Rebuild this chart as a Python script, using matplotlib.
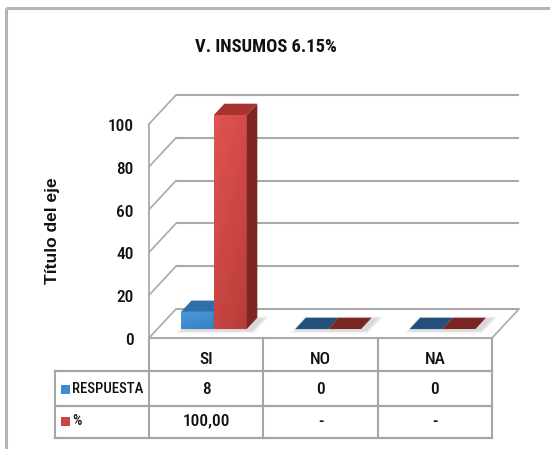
import numpy as np
import matplotlib
matplotlib.use('Agg')
import matplotlib.pyplot as plt
from matplotlib.patches import Polygon
from matplotlib import font_manager as fm

# ---------------- data ----------------
categories = ['SI', 'NO', 'NA']
series_names = ['RESPUESTA', '%']
respuesta = [8, 0, 0]
porcentaje = [100, 0, 0]
respuesta_labels = ['8', '0', '0']
porcentaje_labels = ['100,00', '-', '-']
yticks = [0, 20, 40, 60, 80, 100]
title = 'V. INSUMOS 6.15%'
ylabel = 'Título del eje'


# ---------------- fonts: look for a condensed face ----------------
def _w(f):
    w = f.weight
    if isinstance(w, str):
        wl = w.lower()
        if 'bold' in wl:
            return 700
        if 'medium' in wl:
            return 500
        if 'light' in wl:
            return 300
        return 400
    return int(w)


def find_condensed(target):
    prefs = ['Liberation Sans Narrow', 'Roboto Condensed', 'DejaVu Sans Condensed',
             'DejaVu Sans', 'Noto Sans', 'Open Sans', 'Roboto', 'Open Sans Condensed',
             'Noto Sans Display']
    ents = fm.fontManager.ttflist
    for name in prefs:
        best = None
        for f in ents:
            st = str(f.stretch).lower()
            cond = ('condensed' in st or 'narrow' in st or 'Narrow' in f.name
                    or 'Condensed' in f.name)
            if f.name == name and cond and f.style == 'normal':
                d = abs(_w(f) - target)
                if best is None or d < best[0]:
                    best = (d, f)
        if best is not None and best[0] <= 150:
            return fm.FontProperties(fname=best[1].fname)
    return None


COND = find_condensed(500)
COND_B = find_condensed(700)


def fp(size, bold=False):
    if bold and COND_B is not None:
        p = COND_B.copy()
    elif COND is not None:
        p = COND.copy()
        if bold:
            p.set_weight('bold')
    else:
        p = fm.FontProperties(family=['Liberation Sans', 'DejaVu Sans'],
                              weight='bold' if bold else 'normal')
        size = size * 0.82
    p.set_size(size)
    return p


# ---------------- layout ----------------
W, H = 550, 449
fig = plt.figure(figsize=(W / 100, H / 100), dpi=100)
ax = fig.add_axes([0, 0, 1, 1])
ax.axis('off')

X0PX, CATPX = 149.0, 114.33   # pixel of category 0 / pixels per category
Y0PX, VPX = 338.0, 2.14       # pixel of value 0 / pixels per value unit
XLIM = (-X0PX / CATPX, (W - X0PX) / CATPX)
YLIM = ((Y0PX - H) / VPX, Y0PX / VPX)

DX, DY = 27 / CATPX, 29 / VPX     # depth offset of back wall (data units)


def P(c, v, f):
    return (c + f * DX, v + f * DY)


def px2c(x):
    return (x - X0PX) / CATPX


def py2v(y):
    return (Y0PX - y) / VPX


GRID = '#A9A9A9'
TXT = '#111111'
ncat = len(categories)

# frame (top and left border)
ax.plot([6 / W, 1], [1 - 8 / H, 1 - 8 / H], transform=ax.transAxes,
        color='#B5B5B5', lw=2.2, solid_capstyle='butt', zorder=1)
ax.plot([6 / W, 6 / W], [0, 1 - 8 / H], transform=ax.transAxes,
        color='#B5B5B5', lw=2.2, solid_capstyle='butt', zorder=1)

# back wall gridlines + side wall diagonals
for v in yticks:
    a = P(0, v, 1)
    b = P(ncat, v, 1)
    ax.plot([a[0], b[0]], [a[1], b[1]], color=GRID, lw=1.5, zorder=2,
            solid_capstyle='butt')
    f0 = P(0, v, 0)
    ax.plot([f0[0], a[0]], [f0[1], a[1]], color=GRID, lw=1.2, zorder=2)
ax.plot([0, 0], [0, yticks[-1]], color=GRID, lw=1.3, zorder=2)
a = P(ncat, 0, 0)
b = P(ncat, 0, 1)
ax.plot([0, ncat], [0, 0], color=GRID, lw=1.5, zorder=2)
ax.plot([a[0], b[0]], [a[1], b[1]], color=GRID, lw=1.2, zorder=2)

# tick labels
for v in yticks:
    ax.text(px2c(134), v - 1.2, str(v), ha='right', va='center',
            fontproperties=fp(12.5), color=TXT, zorder=5)

# ---------------- bars ----------------
F1, F2 = 0.31, 0.70
BW = 0.288
OFF = 0.206

blue = dict(front=('#4A9BDC', '#3581C2'), top='#2F6FA8', side='#24527C',
            flat='#22507A')
red = dict(front=('#E15451', '#B83C39'), top='#A83431', side='#7E2624',
           flat='#7A2522')


def grad_face(pts, c1, c2, z):
    patch = Polygon(pts, closed=True, facecolor='none', edgecolor='none')
    ax.add_patch(patch)
    xs = [p[0] for p in pts]
    ys = [p[1] for p in pts]
    n = 64
    gx, gy = np.meshgrid(np.linspace(0, 1, n), np.linspace(0, 1, n))
    t = 0.35 * gx + 0.65 * (1 - gy)
    c1 = np.array(matplotlib.colors.to_rgb(c1))
    c2 = np.array(matplotlib.colors.to_rgb(c2))
    img = c1[None, None, :] * (1 - t[..., None]) + c2[None, None, :] * t[..., None]
    im = ax.imshow(img, extent=[min(xs), max(xs), min(ys), max(ys)],
                   origin='lower', aspect='auto', zorder=z, interpolation='bilinear')
    im.set_clip_path(patch)


def bar3d(x0, x1, v, col, z):
    if v <= 0:
        pts = [P(x0, 0, F1), P(x1, 0, F1), P(x1, 0, F2), P(x0, 0, F2)]
        ax.add_patch(Polygon(pts, closed=True, facecolor=col['flat'],
                             edgecolor='none', zorder=z))
        return
    front = [P(x0, 0, F1), P(x1, 0, F1), P(x1, v, F1), P(x0, v, F1)]
    grad_face(front, col['front'][0], col['front'][1], z)
    top = [P(x0, v, F1), P(x1, v, F1), P(x1, v, F2), P(x0, v, F2)]
    ax.add_patch(Polygon(top, closed=True, facecolor=col['top'],
                         edgecolor='none', zorder=z))
    side = [P(x1, 0, F1), P(x1, 0, F2), P(x1, v, F2), P(x1, v, F1)]
    ax.add_patch(Polygon(side, closed=True, facecolor=col['side'],
                         edgecolor='none', zorder=z))


for i in range(ncat):
    xa = i + OFF
    xb = xa + BW
    xc = xb + BW
    for k, al in enumerate([0.04, 0.06, 0.08, 0.10]):
        e = 0.05 - k * 0.012
        ev = 0.10 - k * 0.025
        sh = [P(xa - e + 0.03, 0, F1 - ev - 0.05), P(xc + e + 0.05, 0, F1 - ev - 0.05),
              P(xc + e + 0.05, 0, F2 + ev - 0.05), P(xa - e + 0.03, 0, F2 + ev - 0.05)]
        ax.add_patch(Polygon(sh, closed=True, facecolor='#707070', alpha=al,
                             edgecolor='none', zorder=3))
    bar3d(xa, xb, respuesta[i], blue, 4)
    bar3d(xb, xc, porcentaje[i], red, 4.5)

# ---------------- data table ----------------
v_r1 = py2v(371)
v_r2 = py2v(406)
v_bot = py2v(438)
c_left = px2c(55)
TL = '#A6A6A6'
for i in range(ncat + 1):
    ax.plot([i, i], [0, v_bot], color=TL, lw=1.5, zorder=2)
for vv in (v_r1, v_r2, v_bot):
    ax.plot([c_left, ncat], [vv, vv], color=TL, lw=1.6, zorder=2)
ax.plot([c_left, c_left], [v_r1, v_bot], color=TL, lw=1.5, zorder=2)

for i, cat in enumerate(categories):
    ax.text(i + 0.5, py2v(360), cat, ha='center', va='center',
            fontproperties=fp(12.5), color=TXT)
    ax.text(i + 0.5, py2v(389), respuesta_labels[i], ha='center', va='center',
            fontproperties=fp(12.5), color=TXT)
    ax.text(i + 0.5, py2v(421), porcentaje_labels[i], ha='center', va='center',
            fontproperties=fp(12.5), color=TXT)

for (ytop, ybot, name, colr, yt) in [(385, 394, series_names[0], '#3D8BD0', 389),
                                     (416.5, 425.5, series_names[1], '#C94541', 421)]:
    sq = [(px2c(61), py2v(ybot)), (px2c(70), py2v(ybot)),
          (px2c(70), py2v(ytop)), (px2c(61), py2v(ytop))]
    ax.add_patch(Polygon(sq, closed=True, facecolor=colr, edgecolor='none', zorder=5))
    ax.text(px2c(72), py2v(yt), name, ha='left', va='center',
            fontproperties=fp(10.6), color=TXT)

# ---------------- titles ----------------
fig.text(266 / W, 1 - 47 / H, title, ha='center', va='center',
         fontproperties=fp(13.3, bold=True), color=TXT)
fig.text(52 / W, 1 - 231 / H, ylabel, ha='center', va='center', rotation=90,
         fontsize=12.5, fontweight='bold', family=['Liberation Sans', 'DejaVu Sans'],
         color=TXT)

ax.set_xlim(*XLIM)
ax.set_ylim(*YLIM)
fig.savefig('out.png', dpi=100, facecolor='white')
